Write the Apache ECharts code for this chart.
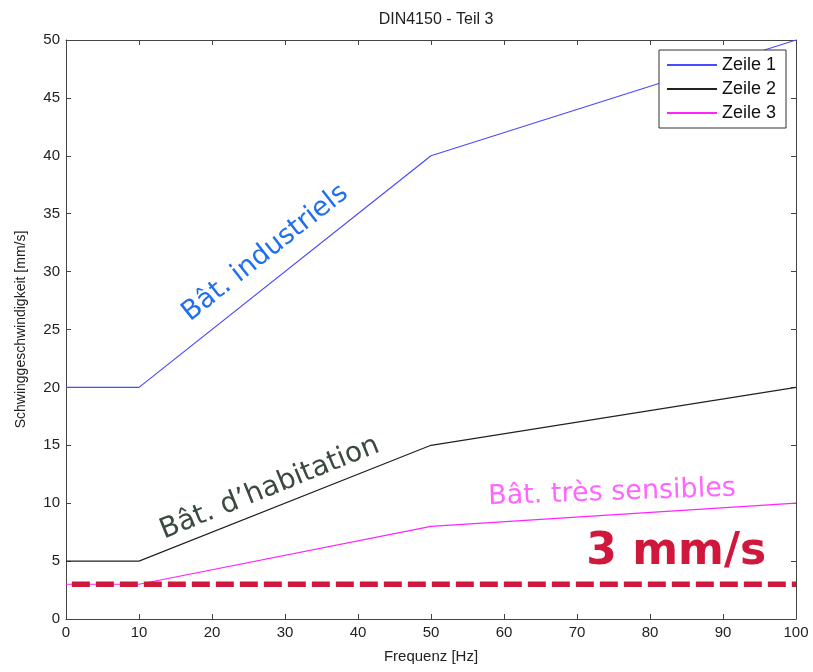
<!DOCTYPE html>
<html><head><meta charset="utf-8">
<script src="https://cdn.jsdelivr.net/npm/echarts@6/dist/echarts.min.js"></script>
<style>html,body{margin:0;padding:0;background:#fff}#c{width:813px;height:672px}</style>
</head><body><div id="c"></div>
<script>
var freq = [0, 10, 50, 100];
var zeile1 = [20, 20, 40, 50];
var zeile2 = [5, 5, 15, 20];
var zeile3 = [3, 3, 8, 10];
var limitX = [0.8, 100];
var limitY = [3, 3];
var xTicks = [0,10,20,30,40,50,60,70,80,90,100];
var yTicks = [0,5,10,15,20,25,30,35,40,45,50];
// annotations: text, data x, data y, rotation (deg)
var annTexts = ['Bât. industriels', 'Bât. d\u2019habitation', 'Bât. très sensibles', '3 mm/s'];
var annX = [27.3, 27.9, 74.8, 83.6];
var annY = [31.6, 11.3, 10.9, 5.7];
var annRot = [38.4, 22, 2, 0];

function pairs(xs, ys){ return xs.map(function(x,i){return [x, ys[i]];}); }

var c1 = '#4a4aff', c2 = '#222222', c3 = '#ff22ff';
var chart = echarts.init(document.getElementById('c'));
var axisFont = {fontFamily:'Liberation Sans', fontSize:15, color:'#222'};
var option = {
  animation:false,
  backgroundColor:'#fff',
  title:{text:'DIN4150 - Teil 3', left:431, top:7, textAlign:'center',
    textStyle:{fontFamily:'Liberation Sans', fontSize:16, fontWeight:'normal', color:'#222'}},
  grid:{left:66, top:40, width:730, height:579, show:false},
  legend:{orient:'vertical', left:659, top:50,
    data:[{name:'Zeile 1', itemStyle:{color:c1}}, {name:'Zeile 2', itemStyle:{color:c2}}, {name:'Zeile 3', itemStyle:{color:c3}}],
    icon:'rect', itemWidth:50, itemHeight:2, itemGap:6, padding:[6,10,6,8],
    backgroundColor:'#fff', borderColor:'#333', borderWidth:1,
    textStyle:{fontFamily:'Liberation Sans', fontSize:18, color:'#111'}},
  xAxis:[
    {type:'value', min:0, max:100, interval:10, position:'bottom',
     name:'Frequenz [Hz]', nameLocation:'middle', nameGap:30,
     nameTextStyle:axisFont,
     axisLine:{show:true, onZero:false, lineStyle:{color:'#444'}},
     axisTick:{show:true, inside:true, length:5, lineStyle:{color:'#444'}},
     axisLabel:Object.assign({margin:6}, axisFont), splitLine:{show:false}},
    {type:'value', min:0, max:100, interval:10, position:'top',
     axisLine:{show:true, onZero:false, lineStyle:{color:'#444'}},
     axisTick:{show:true, inside:true, length:5, lineStyle:{color:'#444'}},
     axisLabel:{show:false}, splitLine:{show:false}}
  ],
  yAxis:[
    {type:'value', min:0, max:50, interval:5, position:'left',
     name:'Schwinggeschwindigkeit [mm/s]', nameLocation:'middle', nameGap:38,
     nameTextStyle:{fontFamily:'Liberation Sans', fontSize:14, color:'#222'},
     axisLine:{show:true, onZero:false, lineStyle:{color:'#444'}},
     axisTick:{show:true, inside:true, length:5, lineStyle:{color:'#444'}},
     axisLabel:Object.assign({margin:6}, axisFont), splitLine:{show:false}},
    {type:'value', min:0, max:50, interval:5, position:'right',
     axisLine:{show:true, onZero:false, lineStyle:{color:'#444'}},
     axisTick:{show:true, inside:true, length:5, lineStyle:{color:'#444'}},
     axisLabel:{show:false}, splitLine:{show:false}}
  ],
  series:[
    {name:'Zeile 1', type:'line', data:pairs(freq, zeile1), symbol:'none', color:c1,
     itemStyle:{color:c1}, lineStyle:{width:1.2, color:c1}, z:3},
    {name:'Zeile 2', type:'line', data:pairs(freq, zeile2), symbol:'none', color:c2,
     itemStyle:{color:c2}, lineStyle:{width:1.2, color:c2}, z:3},
    {name:'Zeile 3', type:'line', data:pairs(freq, zeile3), symbol:'none', color:c3,
     itemStyle:{color:c3}, lineStyle:{width:1.2, color:c3}, z:3},
    {name:'limit', type:'line', data:pairs(limitX, limitY), symbol:'none', z:4,
     lineStyle:{width:5.5, color:'#d0183c', type:[18,6], cap:'butt'}}
  ]
};
chart.setOption(option);

var annColors = ['#1f6ff0', '#3a4a40', '#ff66ff', '#d0183c'];
var annSizes = [27, 28, 27, 44];
var annWeights = ['normal', 'normal', 'normal', 'bold'];
var g = annTexts.map(function(t, i){
  var p = chart.convertToPixel({xAxisIndex:0, yAxisIndex:0}, [annX[i], annY[i]]);
  return {type:'text', x:p[0], y:p[1], rotation:annRot[i]*Math.PI/180, z:10,
    style:{text:t, fill:annColors[i], fontSize:annSizes[i], fontWeight:annWeights[i],
      fontFamily:'DejaVu Sans', align:'center', verticalAlign:'middle'}};
});
chart.setOption({graphic:g});
</script></body></html>
